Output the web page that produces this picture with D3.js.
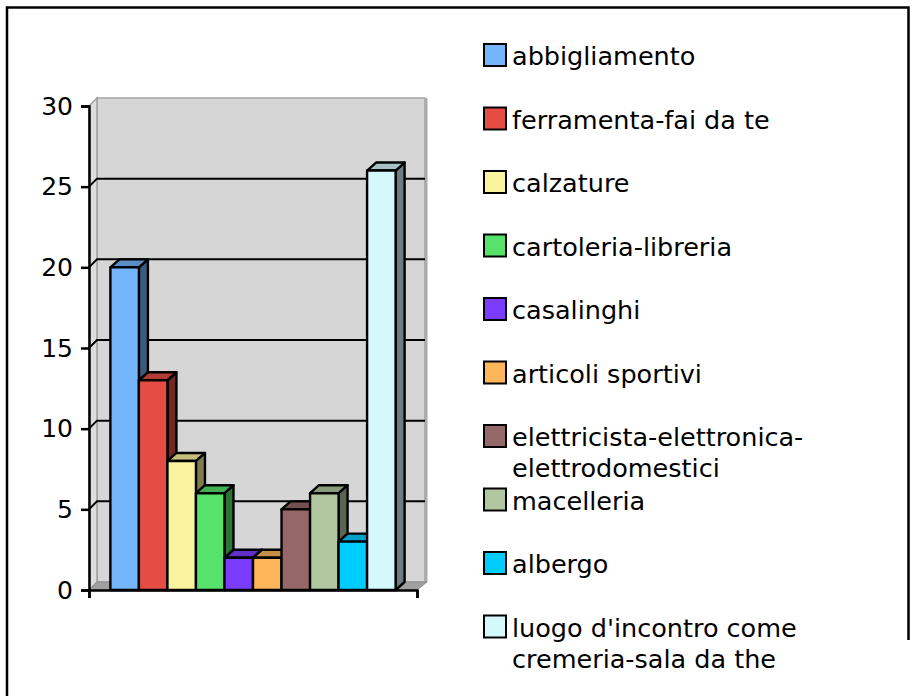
<!DOCTYPE html>
<html>
<head>
<meta charset="utf-8">
<script src="https://cdn.jsdelivr.net/npm/d3@7/dist/d3.min.js"></script>
<style>
body { margin: 0; background: #fff; }
text { font-family: "DejaVu Sans", Verdana, sans-serif; fill: #000; }
</style>
</head>
<body>
<svg width="916" height="696"></svg>
<script>
var categories = ["abbigliamento", "ferramenta-fai da te", "calzature", "cartoleria-libreria",
    "casalinghi", "articoli sportivi", "elettricista-elettronica-elettrodomestici",
    "macelleria", "albergo", "luogo d'incontro come cremeria-sala da the"];
var values = [20, 13, 8, 6, 2, 2, 5, 6, 3, 26];
var colors = ["#74b5fb", "#e44c44", "#fbf49e", "#56e26b", "#7c3cff",
    "#ffb65a", "#966769", "#b0c79f", "#00cdff", "#d5f8fd"];
var yTicks = [0, 5, 10, 15, 20, 25, 30];

var svg = d3.select("svg");

// 3d offsets: wall depth and bar depth
var wallDX = 8, wallDY = -8;
var barDX = 9, barDY = -8;
var left = 89, right = 417;

var y = d3.scaleLinear().domain([0, 30]).range([590, 106]);
var x = d3.scaleBand().domain(categories)
    .range([left, right])
    .paddingInner(0)
    .paddingOuter(0.75);

// outer frame
svg.append("path")
    .attr("d", "M7,696V7.5H908.5V640")
    .attr("fill", "none")
    .attr("stroke", "#000")
    .attr("stroke-width", 2.5);

var chart = svg.append("g");

// back wall
chart.append("rect")
    .attr("x", left + wallDX)
    .attr("y", y(30) + wallDY)
    .attr("width", right - left)
    .attr("height", y(0) - y(30))
    .attr("fill", "#d6d6d6")
    .attr("stroke", "#a6a6a6")
    .attr("stroke-width", 1.5);
// right edge of the wall
chart.append("line")
    .attr("x1", right + wallDX + 1).attr("x2", right + wallDX + 1)
    .attr("y1", y(30) + wallDY).attr("y2", y(0) + wallDY)
    .attr("stroke", "#aaa")
    .attr("stroke-width", 3);

// left side wall
chart.append("polygon")
    .attr("points", [[left, y(30)], [left + wallDX, y(30) + wallDY],
        [left + wallDX, y(0) + wallDY], [left, y(0)]].join(" "))
    .attr("fill", "#dedede")
    .attr("stroke", "#a0a0a0")
    .attr("stroke-width", 1.5);

// floor
chart.append("polygon")
    .attr("points", [[left, y(0)], [left + wallDX, y(0) + wallDY],
        [right + wallDX + 2, y(0) + wallDY], [right, y(0)]].join(" "))
    .attr("fill", "#a0a0a0")
    .attr("stroke", "#8c8c8c")
    .attr("stroke-width", 1);

// gridlines
var grid = yTicks.filter(function(v) { return v > 0 && v < 30; });
chart.selectAll(".grid")
    .data(grid)
    .enter().append("path")
    .attr("class", "grid")
    .attr("d", function(v) {
        return "M" + left + "," + y(v) + "L" + (left + wallDX) + "," + (y(v) + wallDY) +
            "H" + (right + wallDX);
    })
    .attr("fill", "none")
    .attr("stroke", "#000")
    .attr("stroke-width", 2);

// bars, left to right so every front covers the side of the previous bar
var bars = chart.selectAll(".bar")
    .data(values)
    .enter().append("g")
    .attr("class", "bar");

bars.each(function(v, i) {
    var g = d3.select(this);
    var x0 = x(categories[i]), w = x.bandwidth();
    var yt = y(v), yb = y(0);
    var c = d3.rgb(colors[i]);
    g.append("polygon")
        .attr("points", [[x0 + w, yt], [x0 + w + barDX, yt + barDY],
            [x0 + w + barDX, yb + barDY], [x0 + w, yb]].join(" "))
        .attr("fill", c.darker(1.9));
    g.append("polygon")
        .attr("points", [[x0, yt], [x0 + barDX, yt + barDY],
            [x0 + w + barDX, yt + barDY], [x0 + w, yt]].join(" "))
        .attr("fill", c.darker(0.7));
    g.append("rect")
        .attr("x", x0).attr("y", yt)
        .attr("width", w).attr("height", yb - yt)
        .attr("fill", c);
    g.selectAll("*")
        .attr("stroke", "#000")
        .attr("stroke-width", 2.4)
        .attr("stroke-linejoin", "round");
});

// y axis
var yAxis = svg.append("g")
    .attr("transform", "translate(" + left + ",0)")
    .call(d3.axisLeft(y).tickValues(yTicks).tickSizeOuter(0).tickSize(8).tickPadding(8));
yAxis.selectAll("text")
    .style("font-family", "'DejaVu Sans', Verdana, sans-serif")
    .style("font-size", "25px")
    .attr("fill", "#000");
yAxis.selectAll("line, path").attr("stroke", "#000").attr("stroke-width", 2.5);

// x axis (one category, ticks at both ends)
var xEdge = d3.scaleLinear().domain([0, 1]).range([left, right]);
var xAxis = svg.append("g")
    .attr("transform", "translate(0," + y(0) + ")")
    .call(d3.axisBottom(xEdge).tickValues([0, 1]).tickFormat("").tickSizeOuter(0).tickSize(8));
xAxis.selectAll("line, path").attr("stroke", "#000").attr("stroke-width", 2.5);

// legend
var legend = svg.append("g").attr("class", "legend");
var maxW = 385;
categories.forEach(function(name, i) {
    var top = 44 + i * 63.5;
    var g = legend.append("g");
    g.append("rect")
        .attr("x", 484).attr("y", top)
        .attr("width", 22).attr("height", 22)
        .attr("fill", colors[i])
        .attr("stroke", "#000")
        .attr("stroke-width", 2);
    var t = g.append("text")
        .attr("x", 512)
        .attr("y", top + 21)
        .style("font-size", "25.5px");
    // wrap after spaces and hyphens
    var tokens = name.match(/[^ -]+[ -]?/g);
    var line = "";
    var span = t.append("tspan").attr("x", 512);
    tokens.forEach(function(tok) {
        span.text(line + tok);
        if (span.node().getComputedTextLength() > maxW && line !== "") {
            span.text(line.trim());
            line = tok;
            span = t.append("tspan").attr("x", 512).attr("dy", 31).text(tok);
        } else {
            line = line + tok;
        }
    });
    span.text(line.trim());
});
</script>
</body>
</html>
